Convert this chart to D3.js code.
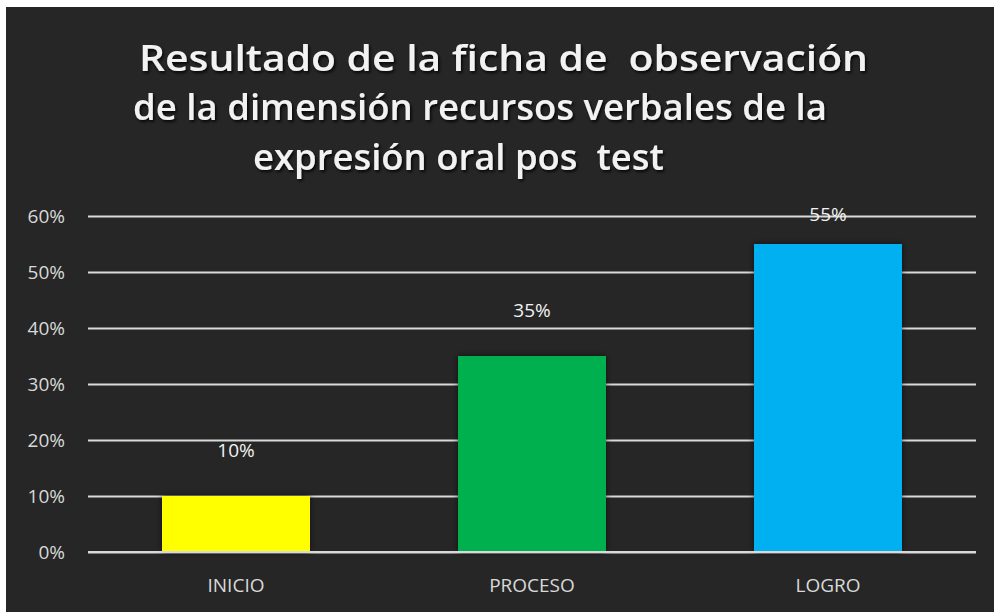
<!DOCTYPE html>
<html>
<head>
<meta charset="utf-8">
<script src="https://cdn.jsdelivr.net/npm/d3@7"></script>
<style>
  body { margin: 0; background: #fff; }
  svg { display: block; }
  text { white-space: pre; }
</style>
</head>
<body>
<svg width="994" height="612"></svg>
<script>
var categories = ["INICIO", "PROCESO", "LOGRO"];
var values = [0.10, 0.35, 0.55];
var barColors = ["#ffff00", "#00b050", "#00b0f0"];
var yTicks = [0, 0.1, 0.2, 0.3, 0.4, 0.5, 0.6];
var titleLines = [
  "Resultado de la ficha de  observación",
  "de la dimensión recursos verbales de la",
  "expresión oral pos  test"
];

var svg = d3.select("svg"),
    width = +svg.attr("width"),
    height = +svg.attr("height");

var margin = {top: 216, right: 18, bottom: 60, left: 88};

var defs = svg.append("defs");
var sh = defs.append("filter").attr("id", "shadow")
  .attr("x", "-20%").attr("y", "-20%").attr("width", "140%").attr("height", "140%");
sh.append("feDropShadow").attr("dx", 0).attr("dy", 0).attr("stdDeviation", 3)
  .attr("flood-color", "#000").attr("flood-opacity", 0.6);
var tsh = defs.append("filter").attr("id", "tshadow")
  .attr("x", "-5%").attr("y", "-20%").attr("width", "110%").attr("height", "150%");
tsh.append("feDropShadow").attr("dx", 1.5).attr("dy", 2).attr("stdDeviation", 1.5)
  .attr("flood-color", "#000").attr("flood-opacity", 0.85);

// chart area background
svg.append("rect")
  .attr("x", 6).attr("y", 7)
  .attr("width", width - 6).attr("height", height - 7)
  .attr("fill", "#262626");

var x = d3.scaleBand()
  .domain(categories)
  .range([margin.left, width - margin.right])
  .paddingInner(0.5).paddingOuter(0.25);

var y = d3.scaleLinear()
  .domain([0, 0.6])
  .range([height - margin.bottom, margin.top]);

// title
var titlePos = [{x: 139, w: 729, y: 71}, {x: 133, w: 694, y: 120}, {x: 253, w: 411, y: 170}];
svg.append("g").attr("filter", "url(#tshadow)")
  .selectAll("text").data(titleLines).enter().append("text")
  .attr("x", function(d, i) { return titlePos[i].x; })
  .attr("y", function(d, i) { return titlePos[i].y; })
  .attr("textLength", function(d, i) { return titlePos[i].w; })
  .attr("lengthAdjust", "spacingAndGlyphs")
  .attr("fill", "#f2f2f2")
  .style("font-family", "'Open Sans', sans-serif")
  .style("font-weight", "600")
  .style("font-size", "36px")
  .text(function(d) { return d; });

// gridlines + y labels
var yAxis = svg.append("g")
  .attr("transform", "translate(" + margin.left + ",0)")
  .call(d3.axisLeft(y).tickValues(yTicks).tickFormat(d3.format(".0%"))
    .tickSize(-(width - margin.left - margin.right)).tickPadding(23));
yAxis.select(".domain").remove();
yAxis.selectAll(".tick line").attr("stroke", "#d9d9d9").attr("stroke-width", 2);
yAxis.selectAll(".tick text")
  .attr("fill", "#d9d9d9")
  .style("font-family", "'Open Sans', sans-serif")
  .style("font-size", "19px");

// bars
svg.append("g").selectAll("rect").data(values).enter().append("rect")
  .attr("x", function(d, i) { return x(categories[i]); })
  .attr("y", function(d) { return y(d); })
  .attr("width", x.bandwidth())
  .attr("height", function(d) { return y(0) - y(d); })
  .attr("fill", function(d, i) { return barColors[i]; })
  .attr("filter", "url(#shadow)");

// baseline redrawn over bars
svg.append("line")
  .attr("x1", margin.left).attr("x2", width - margin.right)
  .attr("y1", y(0)).attr("y2", y(0))
  .attr("stroke", "#d9d9d9").attr("stroke-width", 2);

// value labels
svg.append("g").selectAll("text").data(values).enter().append("text")
  .attr("x", function(d, i) { return x(categories[i]) + x.bandwidth() / 2; })
  .attr("y", function(d) { return Math.max(y(d) - 46, y(0.6) - 2); })
  .attr("dy", "0.35em")
  .attr("text-anchor", "middle")
  .attr("fill", "#f2f2f2")
  .style("font-family", "'Open Sans', sans-serif")
  .style("font-size", "19px")
  .text(function(d) { return d3.format(".0%")(d); });

// category labels
svg.append("g").selectAll("text").data(categories).enter().append("text")
  .attr("x", function(d) { return x(d) + x.bandwidth() / 2; })
  .attr("y", height - 27)
  .attr("dy", "0.35em")
  .attr("text-anchor", "middle")
  .attr("fill", "#d9d9d9")
  .style("font-family", "'Open Sans', sans-serif")
  .style("font-size", "19px")
  .text(function(d) { return d; });
</script>
</body>
</html>
